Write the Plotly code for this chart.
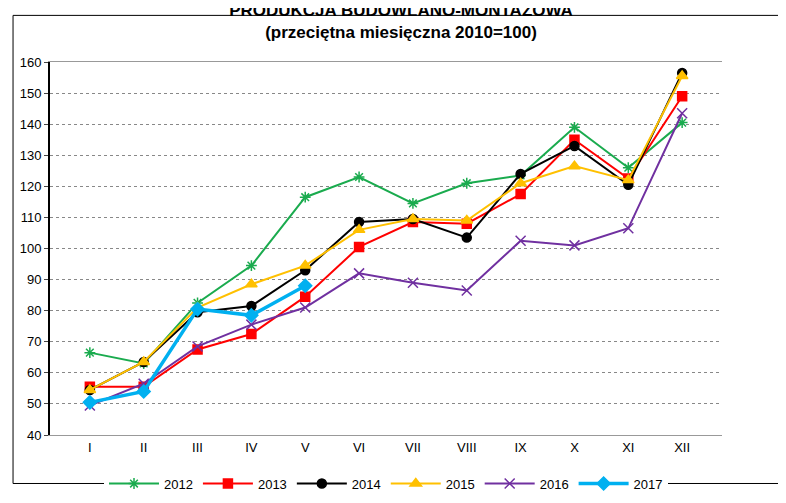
import plotly.graph_objects as go

months = ["I", "II", "III", "IV", "V", "VI", "VII", "VIII", "IX", "X", "XI", "XII"]

y2012 = [66.5, 63, 82.5, 94.5, 116.5, 123, 114.5, 121, 123.5, 139, 126, 140.5]
y2013 = [55.5, 55.5, 67.5, 72.5, 84.5, 100.5, 108.5, 108, 117.5, 135, 122.5, 149]
y2014 = [54.5, 63.5, 79.5, 81.5, 93, 108.5, 109.5, 103.5, 124, 133, 120.5, 156.5]
y2015 = [54.5, 63.5, 81, 88.5, 94.5, 106, 109.5, 109, 121, 126.5, 122, 155.5]
y2016 = [49.5, 56.5, 68.5, 75.5, 81, 92, 89, 86.5, 102.5, 101, 106.5, 143.5]
y2017 = [50.5, 54, 80.5, 78.5, 88]

series = [
    ("2012", y2012, "#1aab4e", "asterisk-open", 9, 2),
    ("2013", y2013, "#ff0000", "square", 9, 2),
    ("2014", y2014, "#000000", "circle", 9, 2),
    ("2015", y2015, "#ffc000", "triangle-up", 10, 2),
    ("2016", y2016, "#7030a0", "x-thin-open", 10, 2),
    ("2017", y2017, "#00b0f0", "diamond", 10, 3.5),
]

fig = go.Figure()
for name, vals, col, sym, size, lw in series:
    fig.add_trace(go.Scatter(
        x=months[:len(vals)], y=vals, name=name, mode="lines+markers",
        line=dict(color=col, width=lw),
        marker=dict(symbol=sym, size=size, color=col, line=dict(color=col, width=1.5)),
    ))

fig.add_hline(y=100, line=dict(color="black", width=2))

fig.update_layout(
    width=786, height=503,
    paper_bgcolor="white", plot_bgcolor="white",
    font=dict(family="Liberation Sans, Arial", size=13, color="black"),
    title=dict(text="<b>PRODUKCJA BUDOWLANO-MONTAŻOWA<br>(przeciętna miesięczna 2010=100)</b>",
               x=0.5, xanchor="center", y=0.985, yanchor="top", font=dict(size=17)),
    margin=dict(l=42, r=72, t=54, b=56),
    xaxis=dict(showgrid=False, showline=True, linecolor="#999999", mirror=True,
               ticks="", tickfont=dict(size=13)),
    yaxis=dict(range=[40, 160], dtick=10, showgrid=True, gridcolor="#888888",
               griddash="dot", gridwidth=1, showline=True, linecolor="black",
               linewidth=2, ticks="outside", ticklen=4, zeroline=False,
               tickfont=dict(size=13)),
    legend=dict(orientation="h", x=0.5, xanchor="center", y=-0.09, yanchor="top",
                font=dict(size=13), itemwidth=50),
    shapes=[dict(type="rect", xref="paper", yref="paper", x0=-0.055, x1=1.1,
                 y0=-0.13, y1=1.125, line=dict(color="black", width=1))],
)

fig.write_html("out.html")
